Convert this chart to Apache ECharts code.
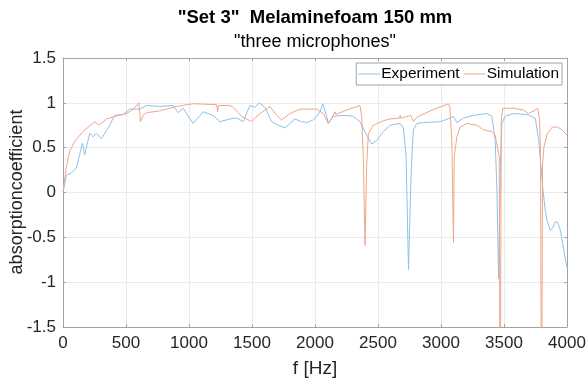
<!DOCTYPE html>
<html>
<head>
<meta charset="utf-8">
<script src="https://cdn.jsdelivr.net/npm/echarts@6/dist/echarts.min.js"></script>
<style>
  html, body { margin: 0; padding: 0; background: #fff; }
  #main { width: 586px; height: 380px; }
</style>
</head>
<body>
<div id="main"></div>
<script>
// values
var expFreq = [0, 27, 67, 106, 119, 154, 172, 212, 238, 265, 305, 358, 411, 477, 530, 609, 663, 768, 874, 914, 954,
  1033, 1112, 1192, 1245, 1325, 1380, 1430, 1483, 1523, 1558, 1603, 1656, 1709, 1762, 1801, 1841, 1894, 1934, 1987,
  2040, 2061, 2093, 2106, 2146, 2230, 2304, 2357, 2410, 2450, 2490, 2543, 2596, 2676, 2702, 2723, 2742, 2765, 2781,
  2808, 2861, 2993, 3072, 3099, 3126, 3178, 3258, 3364, 3404, 3430, 3444, 3457, 3472, 3483, 3510, 3576, 3682, 3748,
  3775, 3809, 3828, 3841, 3867, 3885, 3907, 3925, 3947, 4000];
var expVal = [0, 0.19, 0.22, 0.27, 0.29, 0.55, 0.42, 0.66, 0.62, 0.66, 0.60, 0.72, 0.86, 0.87, 0.93, 0.93, 0.97, 0.96, 0.97, 0.89, 0.94,
  0.77, 0.90, 0.86, 0.79, 0.82, 0.83, 0.79, 0.97, 0.95, 1.0, 0.95, 0.79, 0.75, 0.72, 0.77, 0.82, 0.79, 0.78, 0.81,
  0.90, 0.99, 0.85, 0.77, 0.85, 0.86, 0.85, 0.79, 0.64, 0.54, 0.58, 0.68, 0.75, 0.77, 0.72, 0.40, -0.86, 0.30, 0.70,
  0.77, 0.78, 0.79, 0.83, 0.85, 0.78, 0.83, 0.86, 0.88, 0.85, 0.58, 0.03, -0.96, 0.30, 0.77, 0.85, 0.88, 0.87, 0.83,
  0.59, 0.03, -0.20, -0.31, -0.42, -0.40, -0.33, -0.33, -0.42, -0.84];

var simFreq = [0, 27, 53, 93, 159, 252, 286, 345, 411, 504, 560, 602, 615, 640, 663, 768, 901, 1033, 1219, 1227, 1235,
  1325, 1351, 1417, 1497, 1563, 1643, 1696, 1735, 1801, 1881, 2013, 2066, 2106, 2133, 2159, 2165, 2252, 2357, 2371,
  2384, 2397, 2410, 2424, 2463, 2543, 2596, 2670, 2676, 2682, 2760, 2768, 2781, 2808, 2914, 3006, 3059, 3070, 3086,
  3099, 3105, 3126, 3152, 3205, 3284, 3337, 3404, 3430, 3462, 3470, 3478, 3491, 3505, 3576, 3655, 3695, 3748, 3767,
  3783, 3790, 3798, 3806, 3817, 3844, 3884, 3924, 3960, 4000];
var simVal = [0, 0.29, 0.46, 0.57, 0.68, 0.79, 0.75, 0.82, 0.85, 0.88, 0.93, 1.0, 0.79, 0.87, 0.89, 0.91, 0.96, 0.99, 0.98, 0.90, 0.97,
  0.97, 0.95, 0.85, 0.79, 0.88, 0.96, 0.86, 0.81, 0.88, 0.93, 0.93, 0.88, 0.77, 0.83, 0.90, 0.87, 0.92, 0.97, 0.85,
  0.36, -0.59, 0.30, 0.66, 0.75, 0.80, 0.82, 0.83, 0.86, 0.83, 0.86, 0.88, 0.79, 0.84, 0.91, 0.96, 0.99, 0.96, 0.58,
  -0.56, 0.40, 0.62, 0.73, 0.77, 0.75, 0.70, 0.68, 0.64, 0.40, -3.0, 0.80, 0.94, 0.96, 0.94, 0.92, 0.88, 0.92, 0.94,
  0.81, 0.40, -3.0, 0.30, 0.51, 0.66, 0.73, 0.73, 0.70, 0.64];

var seriesNames = ['Experiment', 'Simulation'];
var titleText = '"Set 3"  Melaminefoam 150 mm';
var subtitleText = '"three microphones"';
var yName = 'absorptioncoefficient';

function pairs(xs, ys) {
  return xs.map(function (x, i) { return [x, ys[i]]; });
}

var font = 'Liberation Sans, Arial, sans-serif';
var axisGray = '#a3a3a3';
var textCol = '#262626';
var plotMid = 315;

var myChart = echarts.init(document.getElementById('main'));
var option = {
  animation: false,
  textStyle: { fontFamily: font },
  graphic: [
    { type: 'text', x: plotMid, y: 8, style: { text: titleText, font: 'bold 18.5px ' + font, fill: '#000', align: 'center' } },
    { type: 'text', x: plotMid, y: 33, style: { text: subtitleText, font: '18px ' + font, fill: '#000', align: 'center' } },
    // y axis title, rotated like the reference
    { type: 'text', x: 17, y: 192, rotation: Math.PI / 2,
      style: { text: yName, font: '18px ' + font, fill: textCol, align: 'center', verticalAlign: 'middle' } }
  ],
  grid: { left: 63, right: 19, top: 58, bottom: 53, outerBoundsMode: 'none', containLabel: false },
  legend: {
    right: 24, top: 63,
    data: seriesNames,
    icon: 'rect', itemWidth: 22, itemHeight: 1, itemGap: 4,
    padding: [3, 3, 3, 2],
    borderColor: axisGray, borderWidth: 1, backgroundColor: '#fff',
    textStyle: { fontSize: 15.5, color: '#000', padding: [0, 0, 0, -4] }
  },
  xAxis: [{
    type: 'value', min: 0, max: 4000, interval: 500,
    name: 'f [Hz]', nameLocation: 'middle', nameGap: 32,
    nameTextStyle: { fontSize: 19, color: textCol },
    axisLine: { show: true, onZero: false, lineStyle: { color: axisGray } },
    axisTick: { show: true, inside: true, length: 3, lineStyle: { color: axisGray } },
    axisLabel: { fontSize: 17, color: textCol, margin: 8, formatter: function (v) { return String(v); } },
    splitLine: { show: true, lineStyle: { color: '#ebebeb' } }
  }, {
    type: 'value', min: 0, max: 4000, interval: 500, position: 'top',
    axisLine: { show: true, onZero: false, lineStyle: { color: axisGray } },
    axisTick: { show: true, inside: true, length: 3, lineStyle: { color: axisGray } },
    axisLabel: { show: false }, splitLine: { show: false }
  }],
  yAxis: [{
    type: 'value', min: -1.5, max: 1.5, interval: 0.5,
    axisLine: { show: true, onZero: false, lineStyle: { color: axisGray } },
    axisTick: { show: true, inside: true, length: 3, lineStyle: { color: axisGray } },
    axisLabel: { fontSize: 17, color: textCol, margin: 7, formatter: function (v) { return String(v); } },
    splitLine: { show: true, lineStyle: { color: '#ebebeb' } }
  }, {
    type: 'value', min: -1.5, max: 1.5, interval: 0.5, position: 'right',
    axisLine: { show: true, onZero: false, lineStyle: { color: axisGray } },
    axisTick: { show: true, inside: true, length: 3, lineStyle: { color: axisGray } },
    axisLabel: { show: false }, splitLine: { show: false }
  }],
  series: [{
    name: seriesNames[0], type: 'line', symbol: 'none', clip: true,
    data: pairs(expFreq, expVal),
    itemStyle: { color: '#8ec1e8' },
    lineStyle: { color: '#8ec1e8', width: 1 }
  }, {
    name: seriesNames[1], type: 'line', symbol: 'none', clip: true,
    data: pairs(simFreq, simVal),
    itemStyle: { color: '#f0a589' },
    lineStyle: { color: '#f0a589', width: 1 }
  }]
};
myChart.setOption(option);
</script>
</body>
</html>
